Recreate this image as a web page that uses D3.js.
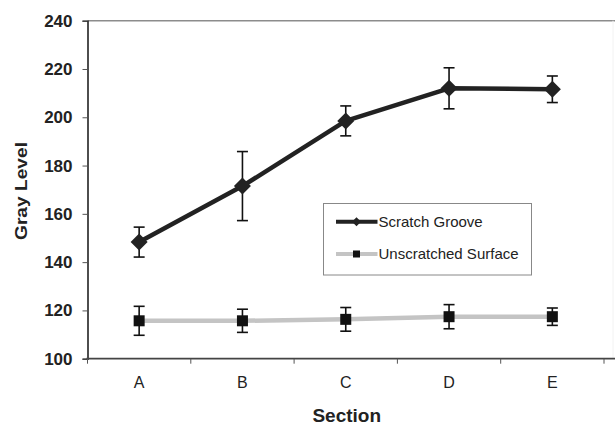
<!DOCTYPE html>
<html><head><meta charset="utf-8">
<script src="https://cdn.jsdelivr.net/npm/d3@7"></script>
<style>body{margin:0;background:#fff}svg{display:block;font-family:"Liberation Sans",Arial,sans-serif}</style>
</head><body>
<svg id="c" width="615" height="426"></svg>
<script>
const sections = ["A","B","C","D","E"];
const grooveMean = [148.3, 171.5, 198.5, 212.0, 211.6];
const grooveErr  = [6.2, 14.3, 6.2, 8.5, 5.5];
const surfMean   = [115.7, 115.7, 116.3, 117.4, 117.4];
const surfErr    = [6.0, 4.8, 4.9, 5.0, 3.6];
const yTicks = [100,120,140,160,180,200,220,240];
const seriesNames = ["Scratch Groove","Unscratched Surface"];

const svg = d3.select("#c");
const L = 87.5, R = 604, T = 20.7, B = 358.7, FR = 613;
const x = d3.scaleBand().domain(sections).range([L, R]);
const y = d3.scaleLinear().domain([100, 240]).range([B, T]);

// frame top & right (gray)
svg.append("line").attr("x1", L).attr("x2", 615).attr("y1", T).attr("y2", T).attr("stroke", "#8c8c8c").attr("stroke-width", 1.6);
svg.append("line").attr("x1", FR).attr("x2", FR).attr("y1", T).attr("y2", B).attr("stroke", "#f2f2f2").attr("stroke-width", 1);

// y axis
const yAxis = svg.append("g").attr("transform", `translate(${L},0)`)
  .call(d3.axisLeft(y).tickValues(yTicks).tickSize(5).tickPadding(10));
yAxis.select(".domain").attr("stroke", "#222").attr("stroke-width", 1.6);
yAxis.selectAll(".tick line").attr("stroke", "#555");
yAxis.selectAll("text").attr("font-size", 17).attr("font-weight", "bold").attr("fill", "#222")
  .attr("font-family", "'Liberation Sans',Arial,sans-serif");

// x axis
const xAxis = svg.append("g").attr("transform", `translate(0,${B})`)
  .call(d3.axisBottom(x).tickSize(0).tickPadding(18));
xAxis.select(".domain").remove();
xAxis.selectAll("text").attr("font-size", 16).attr("fill", "#222")
  .attr("font-family", "'Liberation Sans',Arial,sans-serif");
svg.append("line").attr("x1", L - 1).attr("x2", 615).attr("y1", B).attr("y2", B).attr("stroke", "#444").attr("stroke-width", 1.8);
const bounds = sections.map(s => x(s)).concat([x("E") + x.bandwidth()]);
svg.selectAll(".xt").data(bounds).join("line").attr("class","xt")
  .attr("x1", d => d).attr("x2", d => d).attr("y1", B).attr("y2", B + 5).attr("stroke", "#555").attr("stroke-width", 1);

// axis titles
svg.append("text").attr("x", (L + R) / 2 + 1).attr("y", 422).attr("text-anchor", "middle")
  .attr("font-size", 19).attr("font-weight", "bold").attr("fill", "#222").text("Section");
svg.append("text").attr("transform", "translate(27,191) rotate(-90)").attr("text-anchor", "middle")
  .attr("font-size", 17).attr("font-weight", "bold").attr("fill", "#222")
  .attr("textLength", 98).attr("lengthAdjust", "spacingAndGlyphs").text("Gray Level");

const cx = s => x(s) + x.bandwidth() / 2;
const line = d3.line().x(d => cx(d.s)).y(d => y(d.v));

function drawSeries(means, errs, color, marker) {
  const data = sections.map((s, i) => ({s, v: means[i], e: errs[i]}));
  svg.append("path").datum(data).attr("d", line).attr("fill", "none")
    .attr("stroke", color).attr("stroke-width", 4.5).attr("stroke-linejoin", "round");
  const g = svg.append("g");
  data.forEach(d => {
    const px = cx(d.s);
    g.append("line").attr("x1", px).attr("x2", px).attr("y1", y(d.v + d.e)).attr("y2", y(d.v - d.e)).attr("stroke", "#111").attr("stroke-width", 1.6);
    [d.v + d.e, d.v - d.e].forEach(v => g.append("line").attr("x1", px - 5.5).attr("x2", px + 5.5).attr("y1", y(v)).attr("y2", y(v)).attr("stroke", "#111").attr("stroke-width", 1.6));
  });
  data.forEach(d => {
    const px = cx(d.s), py = y(d.v);
    if (marker === "diamond") {
      g.append("path").attr("d", `M${px},${py-8.5}L${px+8.5},${py}L${px},${py+8.5}L${px-8.5},${py}Z`).attr("fill", "#222");
    } else {
      g.append("rect").attr("x", px - 5.5).attr("y", py - 5.5).attr("width", 11).attr("height", 11).attr("fill", "#111");
    }
  });
}
drawSeries(surfMean, surfErr, "#c4c4c4", "square");
drawSeries(grooveMean, grooveErr, "#222", "diamond");

// legend
const lg = svg.append("g");
lg.append("rect").attr("x", 323.5).attr("y", 203.5).attr("width", 208).attr("height", 71.5)
  .attr("fill", "#fff").attr("stroke", "#888").attr("stroke-width", 1);
const legendRows = [
  {name: seriesNames[0], color: "#222", marker: "diamond", y: 221.7},
  {name: seriesNames[1], color: "#c4c4c4", marker: "square", y: 254}
];
legendRows.forEach(r => {
  lg.append("line").attr("x1", 336).attr("x2", 377.5).attr("y1", r.y).attr("y2", r.y).attr("stroke", r.color).attr("stroke-width", 4);
  const mx = 356.5;
  if (r.marker === "diamond") lg.append("path").attr("d", `M${mx},${r.y-4.5}L${mx+4.5},${r.y}L${mx},${r.y+4.5}L${mx-4.5},${r.y}Z`).attr("fill", "#222");
  else lg.append("rect").attr("x", mx - 3.5).attr("y", r.y - 3.5).attr("width", 7).attr("height", 7).attr("fill", "#111");
  lg.append("text").attr("x", 378.5).attr("y", r.y + 5).attr("font-size", 15).attr("fill", "#222").text(r.name);
});
</script>
</body></html>
